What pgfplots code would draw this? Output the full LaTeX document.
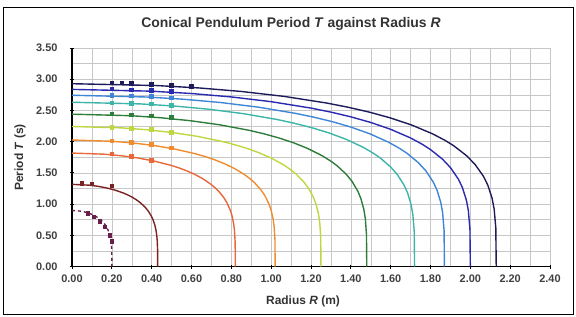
\documentclass[border=0pt]{standalone}
\usepackage{fontspec}
\setmainfont{Liberation Sans}
\usepackage{pgfplots}
\pgfplotsset{compat=1.18}
\definecolor{cA}{HTML}{6A1F4A}
\definecolor{cB}{HTML}{7A2222}
\definecolor{cC}{HTML}{E8683A}
\definecolor{cD}{HTML}{F08C30}
\definecolor{cE}{HTML}{C0D640}
\definecolor{cF}{HTML}{2E7D3A}
\definecolor{cG}{HTML}{3CB5A8}
\definecolor{cH}{HTML}{3F86D6}
\definecolor{cI}{HTML}{2A2AB0}
\definecolor{cJ}{HTML}{1E1B5A}
\begin{document}
\begin{tikzpicture}
\useasboundingbox (-72bp,-50.5bp) rectangle (504bp,266.5bp);
\draw[black, line width=0.9pt] (-69bp,-48bp) rectangle (501bp,259bp);
\begin{axis}[
  at={(0,0)}, anchor=south west,
  scale only axis, width=478bp, height=218.5bp,
  xmin=0, xmax=2.4, ymin=0, ymax=3.5,
  xtick={0,0.2,0.4,0.6,0.8,1.0,1.2,1.4,1.6,1.8,2.0,2.2,2.4},
  ytick={0,0.5,1.0,1.5,2.0,2.5,3.0,3.5},
  minor x tick num=1, minor y tick num=1,
  grid=both,
  grid style={black!22, line width=0.4pt},
  major grid style={black!22, line width=0.4pt},
  axis lines*=left,
  axis line style={black, line width=1.1pt},
  tick align=center, major tick length=4bp, minor tick length=0pt,
  tick style={black, line width=0.8pt},
  ticklabel style={font=\bfseries\fontsize{11}{12}\selectfont, text=black!75},
  xticklabel style={yshift=-3bp},
  yticklabel style={xshift=-9bp},
  /pgf/number format/.cd, fixed, fixed zerofill, precision=2, assume math mode=true,
  /pgfplots/.cd,
  every axis plot/.append style={line width=1.4pt},
]
% L = 0.20 (dashed)
\addplot[cA, dashed, no marks] coordinates {
(0,0.897)(0.04,0.888)(0.06,0.876)(0.08,0.859)(0.10,0.835)(0.12,0.802)(0.13,0.782)(0.14,0.758)(0.15,0.730)(0.16,0.695)(0.17,0.651)(0.176,0.618)(0.18,0.592)(0.186,0.544)(0.19,0.501)(0.194,0.442)(0.196,0.400)(0.198,0.337)(0.199,0.283)(0.1998,0.190)(0.2,0)};
% L = 0.43
\addplot[cB, no marks] coordinates {
(0,1.316)(0.086,1.3027)(0.129,1.2853)(0.172,1.2599)(0.215,1.2247)(0.258,1.1770)(0.2795,1.1472)(0.301,1.1122)(0.3225,1.0703)(0.344,1.0194)(0.3655,0.9552)(0.3784,0.9070)(0.387,0.8688)(0.3999,0.7979)(0.4085,0.7354)(0.4171,0.6489)(0.4214,0.5871)(0.4257,0.4943)(0.4279,0.4159)(0.4296,0.2783)(0.43,0)};
% L = 0.82
\addplot[cC, no marks] coordinates {
(0,1.817)(0.164,1.7986)(0.246,1.7747)(0.328,1.7396)(0.41,1.6909)(0.492,1.6251)(0.533,1.5839)(0.574,1.5355)(0.615,1.4778)(0.656,1.4075)(0.697,1.3188)(0.7216,1.2523)(0.738,1.1996)(0.7626,1.1016)(0.779,1.0153)(0.7954,0.8960)(0.8036,0.8106)(0.8118,0.6825)(0.8159,0.5742)(0.8192,0.3843)(0.82,0)};
% L = 1.02
\addplot[cD, no marks] coordinates {
(0,2.026)(0.204,2.0055)(0.306,1.9788)(0.408,1.9397)(0.51,1.8854)(0.612,1.8121)(0.663,1.7661)(0.714,1.7122)(0.765,1.6477)(0.816,1.5693)(0.867,1.4705)(0.8976,1.3963)(0.918,1.3376)(0.9486,1.2284)(0.969,1.1321)(0.9894,0.9990)(0.9996,0.9038)(1.0098,0.7610)(1.0149,0.6402)(1.019,0.4285)(1.02,0)};
% L = 1.25
\addplot[cE, no marks] coordinates {
(0,2.243)(0.25,2.2203)(0.375,2.1907)(0.5,2.1474)(0.625,2.0873)(0.75,2.0061)(0.8125,1.9552)(0.875,1.8956)(0.9375,1.8242)(1.0,1.7374)(1.0625,1.6280)(1.1,1.5459)(1.125,1.4808)(1.1625,1.3599)(1.1875,1.2534)(1.2125,1.1060)(1.225,1.0006)(1.2375,0.8425)(1.2438,0.7088)(1.2488,0.4744)(1.25,0)};
% L = 1.48
\addplot[cF, no marks] coordinates {
(0,2.44)(0.296,2.4154)(0.444,2.3831)(0.592,2.3361)(0.74,2.2707)(0.888,2.1823)(0.962,2.1269)(1.036,2.0620)(1.11,1.9845)(1.184,1.8900)(1.258,1.7710)(1.3024,1.6816)(1.332,1.6109)(1.3764,1.4794)(1.406,1.3635)(1.4356,1.2032)(1.4504,1.0885)(1.4652,0.9165)(1.4726,0.7710)(1.4785,0.5161)(1.48,0)};
% L = 1.72
\addplot[cG, no marks] coordinates {
(0,2.631)(0.344,2.6044)(0.516,2.5697)(0.688,2.5189)(0.86,2.4484)(1.032,2.3532)(1.118,2.2934)(1.204,2.2235)(1.29,2.1398)(1.376,2.0380)(1.462,1.9096)(1.5136,1.8133)(1.548,1.7370)(1.5996,1.5952)(1.634,1.4702)(1.6684,1.2973)(1.6856,1.1737)(1.7028,0.9882)(1.7114,0.8314)(1.7183,0.5565)(1.72,0)};
% L = 1.87
\addplot[cH, no marks] coordinates {
(0,2.743)(0.374,2.7153)(0.561,2.6791)(0.748,2.6261)(0.935,2.5526)(1.122,2.4533)(1.2155,2.3911)(1.309,2.3181)(1.4025,2.2309)(1.496,2.1247)(1.5895,1.9909)(1.6456,1.8905)(1.683,1.8109)(1.7391,1.6631)(1.7765,1.5328)(1.8139,1.3526)(1.8326,1.2237)(1.8513,1.0303)(1.8607,0.8668)(1.8681,0.5801)(1.87,0)};
% L = 2.00
\addplot[cI, no marks] coordinates {
(0,2.837)(0.4,2.8083)(0.6,2.7709)(0.8,2.7161)(1.0,2.6401)(1.2,2.5374)(1.3,2.4730)(1.4,2.3975)(1.5,2.3073)(1.6,2.1975)(1.7,2.0591)(1.76,1.9553)(1.8,1.8730)(1.86,1.7201)(1.9,1.5853)(1.94,1.3989)(1.96,1.2656)(1.98,1.0656)(1.99,0.8965)(1.998,0.6000)(2.0,0)};
% L = 2.13
\addplot[cJ, no marks] coordinates {
(0,2.928)(0.426,2.8984)(0.639,2.8598)(0.852,2.8033)(1.065,2.7248)(1.278,2.6188)(1.3845,2.5523)(1.491,2.4745)(1.5975,2.3813)(1.704,2.2680)(1.8105,2.1251)(1.8744,2.0180)(1.917,1.9331)(1.9809,1.7752)(2.0235,1.6362)(2.0661,1.4438)(2.0874,1.3062)(2.1087,1.0998)(2.1194,0.9252)(2.1279,0.6193)(2.13,0)};
% measured points
\addplot[cA, only marks, mark=square*, mark size=1.6pt] coordinates {(0.08,0.85)(0.11,0.79)(0.14,0.72)(0.165,0.63)(0.19,0.50)(0.2,0.40)};
\addplot[cB, only marks, mark=square*, mark size=1.6pt] coordinates {(0.05,1.33)(0.10,1.32)(0.20,1.29)};
\addplot[cC, only marks, mark=square*, mark size=1.6pt] coordinates {(0.2,1.80)(0.3,1.76)(0.4,1.70)};
\addplot[cD, only marks, mark=square*, mark size=1.6pt] coordinates {(0.2,2.01)(0.3,1.99)(0.4,1.95)(0.5,1.90)};
\addplot[cE, only marks, mark=square*, mark size=1.6pt] coordinates {(0.2,2.23)(0.3,2.21)(0.4,2.19)(0.5,2.15)};
\addplot[cF, only marks, mark=square*, mark size=1.6pt] coordinates {(0.2,2.44)(0.3,2.43)(0.4,2.41)(0.5,2.39)};
\addplot[cG, only marks, mark=square*, mark size=1.6pt] coordinates {(0.2,2.62)(0.3,2.61)(0.4,2.60)(0.5,2.58)};
\addplot[cH, only marks, mark=square*, mark size=1.6pt] coordinates {(0.2,2.74)(0.3,2.73)(0.4,2.72)(0.5,2.70)};
\addplot[cI, only marks, mark=square*, mark size=1.6pt] coordinates {(0.2,2.84)(0.3,2.83)(0.4,2.82)(0.5,2.80)};
\addplot[cJ, only marks, mark=square*, mark size=1.6pt] coordinates {(0.2,2.94)(0.25,2.94)(0.3,2.93)(0.4,2.92)(0.5,2.90)(0.6,2.88)};
\end{axis}
\node[font=\bfseries\fontsize{14}{16}\selectfont, text=black!80] at (219bp,243bp) {Conical Pendulum Period \textit{T} against Radius \textit{R}};
\node[font=\bfseries\fontsize{12}{14}\selectfont, text=black!80] at (231bp,-35bp) {Radius \textit{R} (m)};
\node[font=\bfseries\fontsize{12}{14}\selectfont, text=black!80, rotate=90] at (-52bp,109bp) {Period \textit{T} (s)};
\end{tikzpicture}
\end{document}
